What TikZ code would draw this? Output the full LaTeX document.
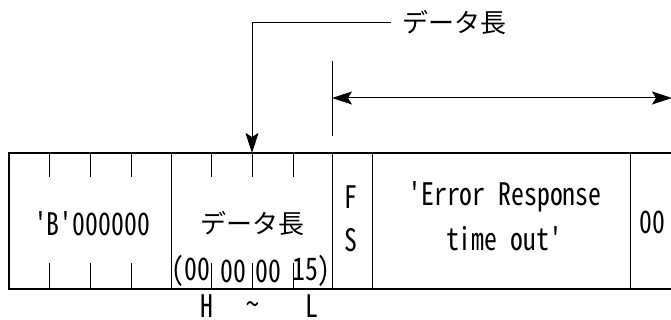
\documentclass[tikz,border=0pt]{standalone}
\usepackage{fontspec}
\newfontfamily\jpfont{Noto Sans CJK JP}
\newfontfamily\hwfont[RawFeature=+hwid, FakeStretch=0.83]{Noto Sans CJK JP}
\usetikzlibrary{arrows.meta}
\tikzset{
  hwtxt/.style={font=\hwfont\fontsize{15.5pt}{17pt}\selectfont, inner sep=0pt},
  jptxt/.style={font=\jpfont\fontsize{13pt}{15pt}\selectfont, inner sep=0pt},
  thinline/.style={line width=0.5pt},
  frameline/.style={line width=0.85pt},
  headtip/.style={-{Stealth[length=10pt,width=6.5pt,inset=2pt]}},
  bothtips/.style={{Stealth[length=10pt,width=6.5pt,inset=2pt]}-{Stealth[length=10pt,width=6.5pt,inset=2pt]}}
}
\begin{document}
\begin{tikzpicture}[x=0.5pt,y=-0.5pt]
\useasboundingbox (0,0) rectangle (671,320);
% frame of the record
\draw[frameline] (690,153) -- (9,153) -- (9,289) -- (690,289);
\foreach \xd in {171,332,372,630}
  \draw[thinline] (\xd,153) -- (\xd,289);
\foreach \xt in {49,90,131,211,252,293} {
  \draw[thinline] (\xt,153) -- (\xt,177);
  \draw[thinline] (\xt,263) -- (\xt,289);
}
% cell texts
\node[hwtxt] (bcell) at (92,224) {'B'000000};
\node[jptxt] (lencell) at (252,224) {データ長};
\node[hwtxt] (lenA) at (191,271) {(00};
\node[hwtxt] (lenB) at (233.5,271) {00};
\node[hwtxt] (lenC) at (268.5,271) {00};
\node[hwtxt] (lenD) at (311.5,271) {15)};
\node[hwtxt] (hmark) at (207,306) {H};
\node[hwtxt] (tmark) at (253,309) {\char`~};
\node[hwtxt] (lmark) at (312,306) {L};
\node[hwtxt] (fmark) at (351,197) {F};
\node[hwtxt] (smark) at (351,240) {S};
\node[hwtxt] (errA) at (505,197) {'Error Response};
\node[hwtxt] (errB) at (504,239) {time out'};
\node[hwtxt] (endcell) at (652,222) {00};
% length label
\node[jptxt, anchor=west] (lenlabel) at (402,23) {データ長};
\coordinate (lenin) at (252,153);
\draw[thinline, headtip] ([xshift=-5.5pt]lenlabel.west) -| (lenin);
% span of the data part
\draw[thinline] (332,61) -- (332,136);
\coordinate (spanL) at (332,98);
\coordinate (spanR) at (672,98);
\draw[thinline, bothtips] (spanL) -- (spanR);
\end{tikzpicture}
\end{document}
